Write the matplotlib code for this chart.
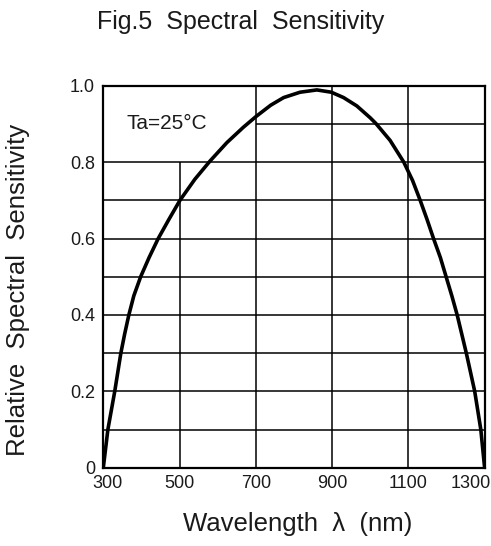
import matplotlib.pyplot as plt
from matplotlib.transforms import ScaledTranslation

# --- data ---
wavelength = [300, 306, 312, 321, 330, 338, 346, 356, 367, 380, 398, 420, 444, 472,
              501, 540, 580, 624, 667, 700, 739, 773, 816, 860, 898, 930, 965, 1000,
              1015, 1052, 1088, 1111, 1131, 1149, 1166, 1184, 1199, 1214, 1228, 1240,
              1252, 1263, 1274, 1282, 1290, 1295, 1300]
sensitivity = [0.0, 0.05, 0.1, 0.15, 0.2, 0.25, 0.3, 0.35, 0.4, 0.45, 0.5, 0.55, 0.6, 0.65,
               0.7, 0.755, 0.803, 0.851, 0.891, 0.919, 0.949, 0.969, 0.983, 0.989, 0.983,
               0.969, 0.947, 0.916, 0.901, 0.857, 0.8, 0.752, 0.7, 0.65, 0.6, 0.55, 0.5,
               0.45, 0.4, 0.35, 0.3, 0.25, 0.2, 0.15, 0.1, 0.05, 0.0]

x_ticks = [300, 500, 700, 900, 1100, 1300]
x_tick_labels = ['300', '500', '700', '900', '1100', '1300']
y_ticks = [0, 0.2, 0.4, 0.6, 0.8, 1.0]
y_tick_labels = ['0', '0.2', '0.4', '0.6', '0.8', '1.0']

# grid lines (some are cut short around the Ta label)
h_grid = [0.1, 0.2, 0.3, 0.4, 0.5, 0.6, 0.7, 0.8, 0.9]
h_grid_start = [300, 300, 300, 300, 300, 300, 300, 300, 700]
v_grid = [500, 700, 900, 1100]
v_grid_top = [0.8, 1.0, 1.0, 1.0]

plt.rcParams['font.family'] = ['Liberation Sans', 'DejaVu Sans']
ink = '#1a1a1a'

fig = plt.figure(figsize=(4.91, 5.46), dpi=100)
ax = fig.add_axes([0.2104, 0.1434, 0.7766, 0.6996])

ax.hlines(h_grid, h_grid_start, 1300, color='black', linewidth=1.1)
ax.vlines(v_grid, 0, v_grid_top, color='black', linewidth=1.1)

ax.plot(wavelength, sensitivity, color='black', linewidth=2.6,
        solid_capstyle='round', solid_joinstyle='round')

ax.set_xlim(300, 1300)
ax.set_ylim(0, 1.0)
ax.set_xticks(x_ticks)
ax.set_xticklabels(x_tick_labels)
ax.set_yticks(y_ticks)
ax.set_yticklabels(y_tick_labels)
ax.tick_params(length=0, labelsize=13, colors=ink)
ax.tick_params(axis='x', pad=5)
ax.tick_params(axis='y', pad=6)

# first/last x labels are nudged like in the original
xl = ax.get_xticklabels()
xl[0].set_transform(xl[0].get_transform() + ScaledTranslation(4 / 100, 0, fig.dpi_scale_trans))
xl[-1].set_ha('right')
xl[-1].set_transform(xl[-1].get_transform() + ScaledTranslation(6 / 100, 0, fig.dpi_scale_trans))

for s in ax.spines.values():
    s.set_linewidth(1.6)

ax.text(361, 0.902, 'Ta=25°C', fontsize=15, va='center', ha='left', color=ink)

fig.text(0.49, 0.96, 'Fig.5  Spectral  Sensitivity', fontsize=18, ha='center', va='center',
         color=ink)
fig.text(0.037, 0.469, 'Relative  Spectral  Sensitivity', fontsize=18.5, rotation=90,
         ha='center', va='center', color=ink)
fig.text(0.606, 0.04, 'Wavelength  λ  (nm)', fontsize=18.5, ha='center', va='center',
         color=ink)

fig.savefig('out.png', dpi=100)
